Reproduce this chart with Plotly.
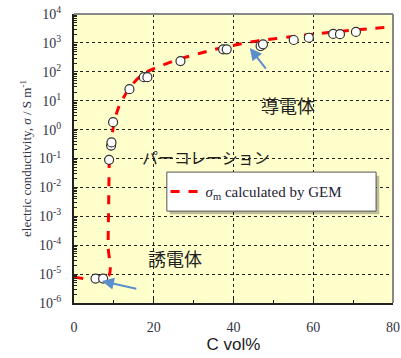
import plotly.graph_objects as go

# measured data points (C vol%, conductivity S/m)
data_x = [5.4, 7.3, 8.8, 9.3, 9.4, 9.8, 13.9, 17.5, 18.4, 26.7, 37.4, 38.3,
          46.8, 47.4, 55.1, 58.9, 65.0, 66.7, 70.7]
data_y = [7.0e-6, 7.0e-6, 0.09, 0.28, 0.36, 1.8, 25, 65, 65, 235, 600, 600,
          780, 890, 1260, 1510, 2040, 2000, 2400]

# GEM curve
gem_x = [0, 8.5, 8.55, 8.65, 8.75, 8.9, 9.3, 10, 11, 12, 14, 16.5, 19, 21.6,
         26, 31.6, 36, 41.6, 46, 50.8, 56, 60, 65, 70, 75, 80]
gem_y = [8e-6, 8e-6, 1e-4, 1e-3, 1e-2, 0.1, 0.32, 1.6, 5, 10, 28, 68, 112, 158,
         263, 437, 631, 912, 1175, 1413, 1738, 2000, 2400, 2750, 3160, 3550]

x_ticks = [0, 20, 40, 60, 80]
y_exps = [-6, -5, -4, -3, -2, -1, 0, 1, 2, 3, 4]

fig = go.Figure()
fig.add_trace(go.Scatter(
    x=gem_x, y=gem_y, mode="lines", line_shape="spline",
    line=dict(color="#ff0000", width=3, dash="dash"),
    name="<i>σ</i><sub>m</sub> calculated by GEM", showlegend=True))
fig.add_trace(go.Scatter(
    x=data_x, y=data_y, mode="markers",
    marker=dict(symbol="circle", size=9, color="white",
                line=dict(color="#333333", width=1.2)),
    showlegend=False))

serif = "Liberation Serif, Times New Roman, serif"
fig.update_layout(
    width=401, height=358,
    margin=dict(l=74, r=8, t=14, b=55, autoexpand=False),
    paper_bgcolor="white", plot_bgcolor="#ffffcc",
    showlegend=True,
    legend=dict(x=0.287, y=0.385, xanchor="left", yanchor="middle",
                bgcolor="rgba(0,0,0,0)", borderwidth=0,
                font=dict(family=serif, size=15, color="#222233"),
                itemwidth=30),
    xaxis=dict(range=[0, 80], tickvals=x_ticks, ticks="inside", ticklen=4,
               tickcolor="#222", showline=True, linecolor="#222", linewidth=1.5,
               mirror=False, showgrid=True, gridcolor="#222", griddash="dot",
               gridwidth=1, zeroline=False, automargin=False,
               minor=dict(dtick=10, ticks="inside", ticklen=3, tickcolor="#222", showgrid=False),
               tickfont=dict(family=serif, size=14, color="#333344"),
               ticklabelstandoff=10,
               title=dict(text="C vol%", font=dict(family="Liberation Sans, Arial", size=17, color="#222"),
                          standoff=2)),
    yaxis=dict(type="log", range=[-6, 4],
               tickvals=[10.0 ** e for e in y_exps],
               ticktext=["10<sup>%d</sup>" % e for e in y_exps],
               ticks="inside", ticklen=4, tickcolor="#222",
               showline=True, linecolor="#222", linewidth=2,
               showgrid=True, gridcolor="#222", griddash="dot", gridwidth=1,
               zeroline=False, automargin=False,
               minor=dict(dtick="D1", ticks="inside", ticklen=3, tickcolor="#222", showgrid=False),
               tickfont=dict(family=serif, size=14, color="#333344"),
               ticklabelstandoff=8,
               title=dict(text="electric conductivity, <i>σ</i> / S m<sup>-1</sup>",
                          font=dict(family=serif, size=13, color="#333344"), standoff=4)),
    shapes=[
        # top/right frame
        dict(type="line", xref="paper", yref="paper", x0=0, x1=1, y0=1, y1=1,
             line=dict(color="#888888", width=2), layer="above"),
        dict(type="line", xref="paper", yref="paper", x0=1, x1=1, y0=0, y1=1,
             line=dict(color="#888888", width=2), layer="above"),
        # legend shadow and box
        dict(type="rect", xref="paper", yref="paper", x0=0.300, x1=0.957,
             y0=0.307, y1=0.440, fillcolor="rgba(0,0,0,0.25)", line=dict(width=0),
             layer="above"),
        dict(type="rect", xref="paper", yref="paper", x0=0.291, x1=0.947,
             y0=0.318, y1=0.453, fillcolor="white",
             line=dict(color="#555555", width=1), layer="above"),
    ],
)

jp = "Noto Sans CJK JP"
fig.add_annotation(x=53.6, y=0.737, xref="x", yref="y domain", text="導電体", showarrow=False,
                   font=dict(family=jp, size=18, color="#222"))
fig.add_annotation(x=33.2, y=0.505, xref="x", yref="y domain", text="パーコレーション", showarrow=False,
                   font=dict(family=jp, size=16, color="#222"))
fig.add_annotation(x=25.4, y=0.104, xref="x", yref="y domain", text="誘電体", showarrow=False,
                   font=dict(family=jp, size=18, color="#222"))
# arrows
fig.add_annotation(x=44.1, y=0.882, xref="x", yref="y domain", ax=48.4, ay=0.806,
                   axref="x", ayref="y domain", text="", showarrow=True,
                   arrowhead=2, arrowsize=1.2, arrowwidth=2, arrowcolor="#5b8fcc")
fig.add_annotation(x=7.0, y=0.076, xref="x", yref="y domain", ax=16.0, ay=0.048,
                   axref="x", ayref="y domain", text="", showarrow=True,
                   arrowhead=2, arrowsize=1.2, arrowwidth=2, arrowcolor="#5b8fcc")

fig.write_html("out.html", config={"displayModeBar": False},
               post_script="document.body.style.margin='0';")
